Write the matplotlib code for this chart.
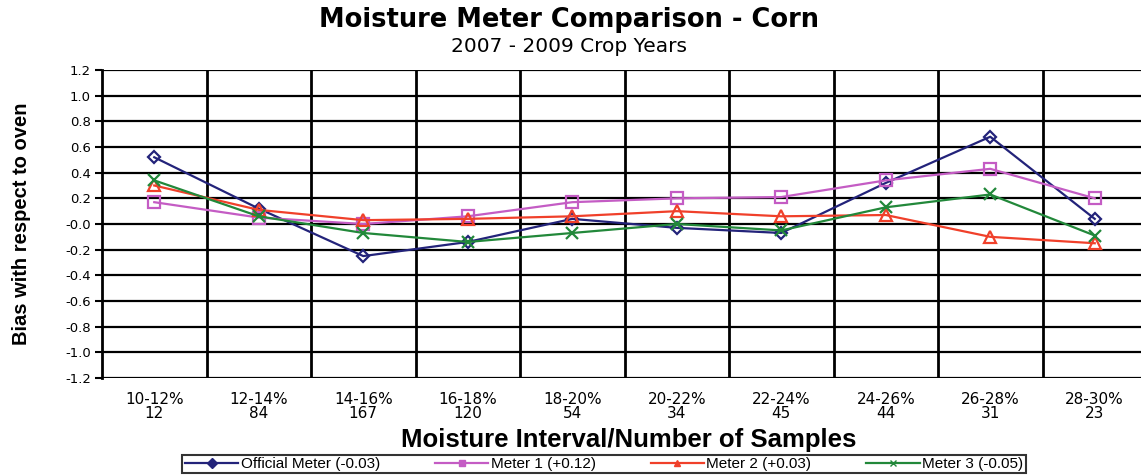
import matplotlib
matplotlib.use("Agg")
import matplotlib.pyplot as plt
from matplotlib.lines import Line2D
import numpy as np

# ---- data ----
intervals = ["10-12%", "12-14%", "14-16%", "16-18%", "18-20%",
             "20-22%", "22-24%", "24-26%", "26-28%", "28-30%"]
n_samples = [12, 84, 167, 120, 54, 34, 45, 44, 31, 23]

official = [0.52, 0.12, -0.25, -0.14, 0.04, -0.03, -0.07, 0.32, 0.68, 0.04]
meter1 = [0.17, 0.05, 0.00, 0.06, 0.17, 0.20, 0.21, 0.34, 0.43, 0.20]
meter2 = [0.30, 0.11, 0.03, 0.04, 0.06, 0.10, 0.06, 0.07, -0.10, -0.15]
meter3 = [0.34, 0.06, -0.07, -0.14, -0.07, 0.00, -0.05, 0.13, 0.23, -0.09]

series_labels = ["Official Meter (-0.03)", "Meter 1 (+0.12)",
                 "Meter 2 (+0.03)", "Meter 3 (-0.05)"]

WIDE = ["DejaVu Sans"]
ARIAL = ["Liberation Sans", "DejaVu Sans"]
plt.rcParams["font.family"] = ARIAL

styles = [
    dict(color="#23237a", marker="D", ms=6),
    dict(color="#c45cc4", marker="s", ms=8),
    dict(color="#f0402a", marker="^", ms=8),
    dict(color="#22883a", marker="x", ms=8),
]

fig = plt.figure(figsize=(11.41, 4.76), dpi=100)
ax = fig.add_axes([102 / 1141, 1 - 378 / 476, 1045 / 1141, 308 / 476])

x = np.arange(len(intervals))
for vals, st in zip([official, meter1, meter2, meter3], styles):
    ax.plot(x, vals, color=st["color"], lw=1.6, marker=st["marker"],
            ms=st["ms"], mfc="none", mec=st["color"], mew=1.6, zorder=3)

ax.set_xlim(-0.5, len(intervals) - 0.5)
ax.set_ylim(-1.2, 1.2)
yt = np.round(np.arange(-1.2, 1.21, 0.2), 1)
ax.set_yticks(yt)
ax.set_yticklabels([f"{v:.1f}" for v in yt], fontsize=9.5, family=WIDE)
for v in yt:
    ax.axhline(v, color="black", lw=1.6, zorder=1)
for b in np.arange(0.5, len(intervals) - 0.5, 1):
    ax.axvline(b, color="black", lw=2.0, zorder=1)

ax.set_xticks(x)
ax.set_xticklabels([f"{a}\n{n}" for a, n in zip(intervals, n_samples)],
                   fontsize=11, family=WIDE, linespacing=0.9)
ax.tick_params(axis="x", length=0, pad=10)
ax.tick_params(axis="y", length=5, width=1.5, pad=3)
for side in ["top", "right", "bottom"]:
    ax.spines[side].set_visible(False)
ax.spines["left"].set_linewidth(2.0)

ax.set_ylabel("Bias with respect to oven", fontsize=14.5, fontweight="bold",
              va="center")
ax.yaxis.set_label_coords((22 - 102) / 1045, 0.5)

fig.text(0.499, 1 - 20 / 476, "Moisture Meter Comparison - Corn",
         ha="center", va="center", fontsize=18.5, fontweight="bold",
         family=WIDE)
fig.text(0.499, 1 - 46 / 476, "2007 - 2009 Crop Years",
         ha="center", va="center", fontsize=14.5, family=WIDE)
fig.text(629 / 1141, 1 - 440 / 476, "Moisture Interval/Number of Samples",
         ha="center", va="center", fontsize=18.5, fontweight="bold")

handles = [Line2D([0], [0], color=st["color"], lw=1.6, marker=st["marker"],
                  ms=5, mfc=st["color"], mec=st["color"])
           for st in styles]
leg = fig.legend(handles, series_labels, loc="center",
                 bbox_to_anchor=(604 / 1141, 1 - 464 / 476), ncol=4,
                 fontsize=11, frameon=True, fancybox=False,
                 edgecolor="black", handlelength=3.5, columnspacing=3.6,
                 borderpad=0.15, handletextpad=0.15)
leg.get_frame().set_linewidth(1.5)

fig.savefig("out.png", dpi=100)
